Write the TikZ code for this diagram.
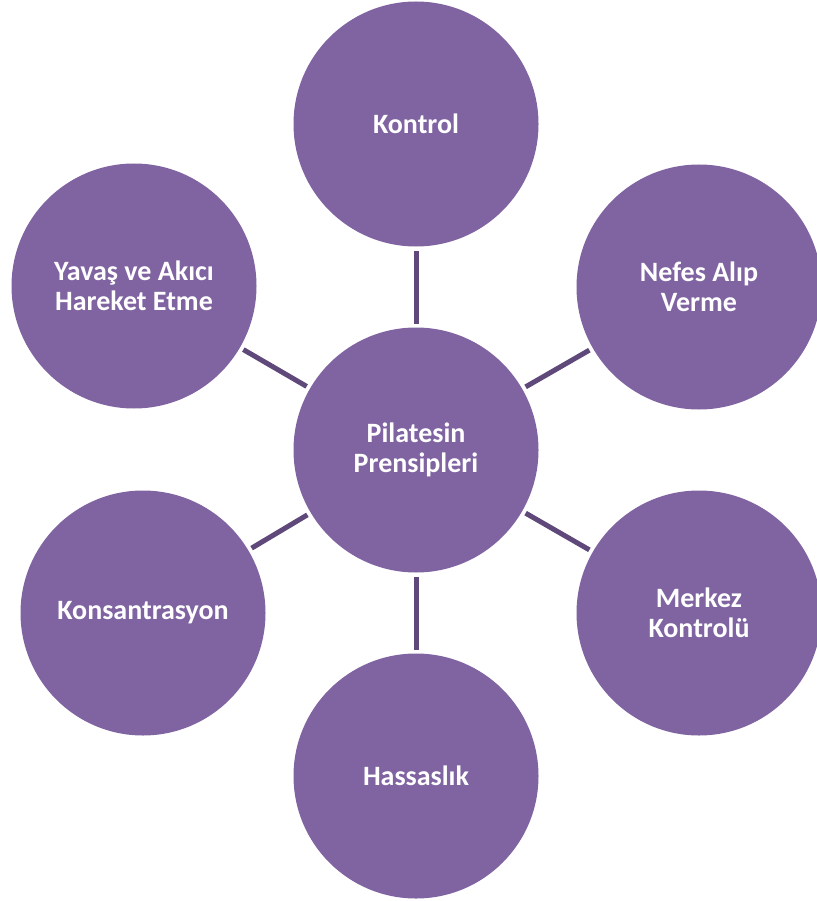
\documentclass[tikz,border=0pt]{standalone}
\usepackage{fontspec}
\setmainfont{Carlito}
\definecolor{bubblefill}{HTML}{8064A2}
\definecolor{linkline}{HTML}{5F497A}

\begin{document}
\begin{tikzpicture}[x=1pt, y=-1pt,
    bubble/.style={circle, fill=bubblefill, minimum size=245pt, inner sep=0pt, outer sep=0pt,
      text=white, align=center, font=\fontsize{28}{30}\selectfont\bfseries},
    link/.style={draw=linkline, line width=5pt, shorten <=4pt, shorten >=4pt}]
  \useasboundingbox (0,0) rectangle (816,901);

  % centre and the six principles
  \node[bubble] (center) at (416,450) {Pilatesin\\Prensipleri};
  \node[bubble] (kontrol) at (416,124) {Kontrol};
  \node[bubble] (nefes) at (699,287) {Nefes Alıp\\Verme};
  \node[bubble] (merkez) at (699,613) {Merkez\\Kontrolü};
  \node[bubble] (hassas) at (416,776) {Hassaslık};
  \node[bubble] (konsant) at (143,613) {Konsantrasyon};
  \node[bubble] (yavas) at (134,286) {Yavaş ve Akıcı\\Hareket Etme};

  \foreach \n in {kontrol, nefes, merkez, hassas, konsant, yavas} {
    \draw[link] (center) -- (\n);
  }
\end{tikzpicture}
\end{document}
